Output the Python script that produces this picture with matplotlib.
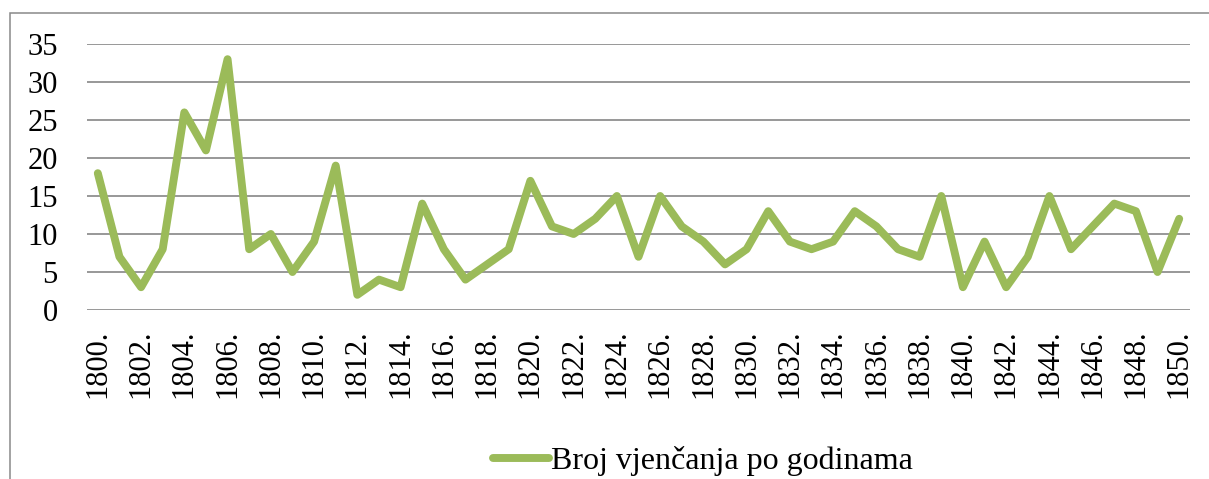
import matplotlib
matplotlib.use("Agg")
import matplotlib.pyplot as plt
from matplotlib.patches import Rectangle

# Broj vjenčanja po godinama, 1800.-1850.
years = list(range(1800, 1851))
marriages = [18, 7, 3, 8, 26, 21, 33, 8, 10, 5,
             9, 19, 2, 4, 3, 14, 8, 4, 6, 8,
             17, 11, 10, 12, 15, 7, 15, 11, 9, 6,
             8, 13, 9, 8, 9, 13, 11, 8, 7, 15,
             3, 9, 3, 7, 15, 8, 11, 14, 13, 5,
             12]
yticks = [0, 5, 10, 15, 20, 25, 30, 35]
series_label = "Broj vjenčanja po godinama"

plt.rcParams['font.family'] = ['Liberation Serif', 'DejaVu Serif']

W, H = 1209, 479
fig = plt.figure(figsize=(W / 100, H / 100), dpi=100)

# outer chart frame (runs off the right and bottom edges)
fig.patches.append(Rectangle((10 / W, -0.2), 1.5, 1.2 - 13 / H,
                             transform=fig.transFigure, fill=False,
                             edgecolor='#898989', linewidth=1.1, zorder=0))

ax = fig.add_axes([87 / W, 1 - 310 / H, (1190 - 87) / W, (310 - 44) / H])

x = list(range(len(years)))
ax.plot(x, marriages, color='#9BBB59', linewidth=5.7,
        solid_joinstyle='round', solid_capstyle='round',
        label=series_label, zorder=3)

ax.set_xlim(-0.5, len(years) - 0.5)
ax.set_ylim(0, 35)
ax.set_yticks(yticks)
ax.set_yticklabels([str(v) for v in yticks])
ax.set_xticks(x[::2])
ax.set_xticklabels([f"{y}." for y in years[::2]], rotation=90)

ax.yaxis.grid(True, color='#868686', linewidth=1.2)
ax.set_axisbelow(True)
for s in ax.spines.values():
    s.set_visible(False)
ax.tick_params(axis='both', length=0, labelsize=22, colors='black')
ax.tick_params(axis='y', pad=21)
ax.tick_params(axis='x', pad=14)

fig.legend(loc='center', bbox_to_anchor=(703 / W, 1 - 461 / H),
           frameon=False, fontsize=23, handlelength=1.75,
           handletextpad=0.05, borderpad=0)

fig.savefig("out.png", dpi=100)
